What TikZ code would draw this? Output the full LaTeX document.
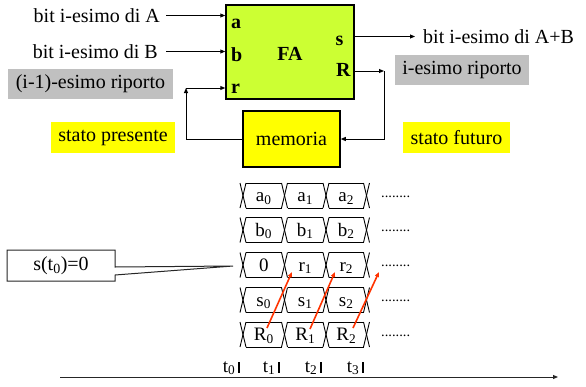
\documentclass[tikz,border=0pt]{standalone}
\usepackage{fontspec}
\setmainfont{Liberation Serif}
\usetikzlibrary{arrows.meta}
\definecolor{faGreen}{RGB}{204,255,51}
\definecolor{memYellow}{RGB}{255,255,0}
\definecolor{tagGray}{RGB}{192,192,192}
\definecolor{carryRed}{RGB}{255,51,0}

% one row of the bus timing diagram: #1 name, #2 centre y, #3-#5 cell labels
\newcommand\busrow[5]{%
  \foreach \b in {243,284.5,326,366.5}{
    \draw[bus] (\b-3,#2-12.5) -- (\b+3,#2+12.5);
    \draw[bus] (\b-3,#2+12.5) -- (\b+3,#2-12.5);}
  \foreach \b/\e in {243/284.5,284.5/326,326/366.5}{
    \draw[bus] (\b+3,#2-12.5) -- (\e-3,#2-12.5);
    \draw[bus] (\b+3,#2+12.5) -- (\e-3,#2+12.5);}
  \node[cellt] (#1-0) at (263.75,#2+6) {#3};
  \node[cellt] (#1-1) at (305.25,#2+6) {#4};
  \node[cellt] (#1-2) at (346.25,#2+6) {#5};
  \node[dotst] (#1-d) at (381,#2+1.5) {........};
}

\begin{document}
\begin{tikzpicture}[x=1pt,y=-1pt,
  big/.style={font=\fontsize{20}{24}\selectfont, inner sep=0pt},
  bigb/.style={font=\fontsize{20}{24}\selectfont\bfseries, inner sep=0pt},
  small/.style={font=\fontsize{19}{21}\selectfont, inner sep=0pt},
  cellt/.style={small, anchor=base},
  dotst/.style={font=\fontsize{14.5}{16}\selectfont, inner sep=0pt, anchor=base west},
  wire/.style={draw=black, line width=1pt},
  tip/.style={-{Triangle[length=5pt,width=4pt]}},
  tag/.style={big, minimum height=30pt},
  bus/.style={draw=black, line width=0.9pt},
  carry/.style={draw=carryRed, line width=1.6pt, -{Triangle[length=5pt,width=4pt]}},
]
\useasboundingbox (0,0) rectangle (586,386);

% full adder block
\node[draw=black, line width=1.5pt, fill=faGreen, minimum width=128pt,
      minimum height=94pt, inner sep=0pt] (fa) at (290,52) {};
\node[bigb, anchor=base] (faname) at (290,60.7) {FA};
\node[bigb, anchor=base west] (pa) at (231,28.5) {a};
\node[bigb, anchor=base west] (pb) at (231,61) {b};
\node[bigb, anchor=base west] (pr) at (231,93) {r};
\node[bigb, anchor=base west] (ps) at (335.5,45) {s};
\node[bigb, anchor=base west] (pR) at (336,76) {R};

% inputs and output
\node[big, anchor=east] (inA) at (160,15.5) {bit i-esimo di A};
\node[big, anchor=east] (inB) at (158,51.5) {bit i-esimo di B};
\draw[wire,tip] ([xshift=6pt]inA.east) -- (inA.east -| fa.west);
\draw[wire,tip] ([xshift=8pt]inB.east) -- (inB.east -| fa.west);
\node[big, anchor=west] (outS) at (423,36.5) {bit i-esimo di A+B};
\draw[wire,tip] (fa.east |- outS.west) -- ([xshift=-8pt]outS.west);

% labels of the carry signals and of the state
\node[tag, fill=tagGray, minimum width=165pt] (prevc) at (90.5,84) {(i-1)-esimo riporto};
\node[tag, fill=tagGray, minimum width=134pt] (curc) at (462,70) {i-esimo riporto};
\node[tag, fill=memYellow, minimum width=124pt, minimum height=31pt] (pres) at (113,137.5) {stato presente};
\node[tag, fill=memYellow, minimum width=107pt, minimum height=31pt] (fut) at (456.5,137.5) {stato futuro};

% memory element and the feedback loop
\node[draw=black, line width=1.5pt, fill=memYellow, minimum width=97pt,
      minimum height=56pt, big] (mem) at (291.5,139) {memoria};
\coordinate (lc) at (186,88);
\coordinate (rc) at (384,71);
\draw[wire,tip] (mem.west) -| (lc);
\draw[wire,tip] (lc) -- (lc -| fa.west);
\draw[wire,tip] (fa.east |- rc) -- (rc);
\draw[wire,tip] (rc) |- (mem.east);

% initial carry callout
\draw[line width=1pt, draw=black!85, fill=white]
  (7,250) -- (115,250) -- (115,267) -- (233,266) -- (115,275) -- (115,281) -- (7,281) -- cycle;
\node[big] (init) at (61,265.5) {s(t\textsubscript{0})=0};

% timing rows
\busrow{A}{195.5}{a\textsubscript{0}}{a\textsubscript{1}}{a\textsubscript{2}}
\busrow{B}{230}{b\textsubscript{0}}{b\textsubscript{1}}{b\textsubscript{2}}
\busrow{Ci}{265}{0}{r\textsubscript{1}}{r\textsubscript{2}}
\busrow{S}{300}{s\textsubscript{0}}{s\textsubscript{1}}{s\textsubscript{2}}
\busrow{Co}{334.5}{R\textsubscript{0}}{R\textsubscript{1}}{R\textsubscript{2}}

% carry out of one step becomes carry in of the next
\coordinate (k0s) at (267,328); \coordinate (k0e) at (292,272);
\coordinate (k1s) at (310,329); \coordinate (k1e) at (335,272);
\coordinate (k2s) at (353,328); \coordinate (k2e) at (379,272);
\draw[carry] (k0s) -- (k0e);
\draw[carry] (k1s) -- (k1e);
\draw[carry] (k2s) -- (k2e);

% time axis
\coordinate (ax0) at (60,377);
\coordinate (ax1) at (558,377);
\draw[draw=black!85, line width=1pt, tip] (ax0) -- (ax1);
\foreach \x/\i in {239/0,279/1,321/2,363/3}{
  \draw[line width=2pt] (\x,362) -- (\x,373);
  \node[small, anchor=base east] (t\i) at (\x-3.5,372) {t\textsubscript{\i}};
}
\end{tikzpicture}
\end{document}
